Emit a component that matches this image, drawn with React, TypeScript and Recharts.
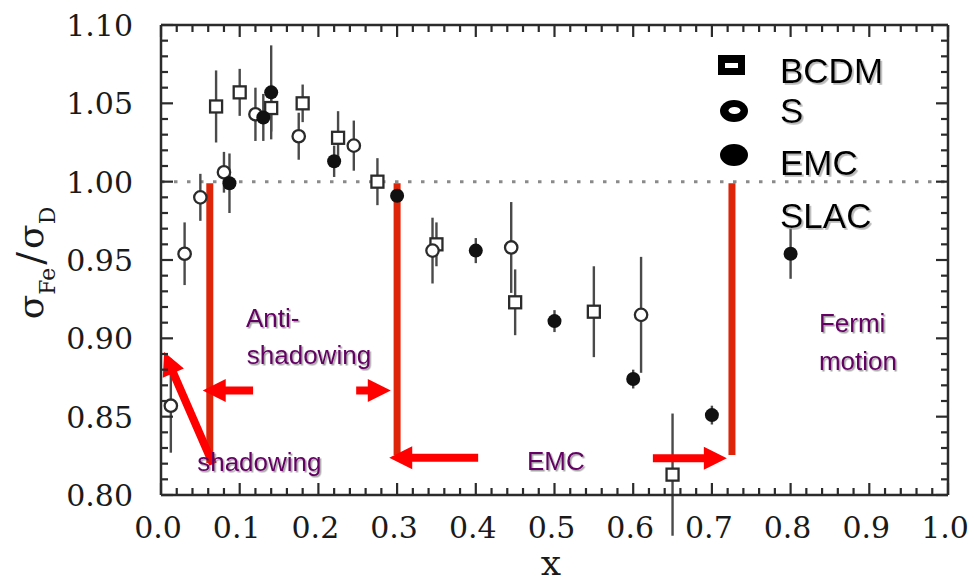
import React from "react";
import {
  ScatterChart,
  Scatter,
  XAxis,
  YAxis,
  ErrorBar,
  ReferenceLine,
  ReferenceDot,
  Legend,
} from "recharts";

// BCDM - open squares
const bcdmX = [0.07, 0.1, 0.14, 0.18, 0.225, 0.275, 0.35, 0.45, 0.55, 0.65];
const bcdmY = [1.048, 1.057, 1.047, 1.05, 1.028, 1.0, 0.96, 0.923, 0.917, 0.813];
const bcdmErr = [0.023, 0.015, 0.015, 0.012, 0.017, 0.015, 0.014, 0.021, 0.029, 0.039];

// S (SLAC) - open circles
const sX = [0.0125, 0.03, 0.05, 0.08, 0.12, 0.175, 0.245, 0.345, 0.445, 0.61];
const sY = [0.857, 0.954, 0.99, 1.006, 1.043, 1.029, 1.023, 0.956, 0.958, 0.915];
const sErr = [0.03, 0.02, 0.015, 0.013, 0.017, 0.015, 0.016, 0.021, 0.029, 0.037];

// EMC - filled circles
const emcX = [0.087, 0.13, 0.14, 0.22, 0.3, 0.4, 0.5, 0.6, 0.7, 0.8];
const emcY = [0.999, 1.041, 1.057, 1.013, 0.991, 0.956, 0.911, 0.874, 0.851, 0.954];
const emcErr = [0.019, 0.015, 0.03, 0.01, 0.004, 0.008, 0.007, 0.006, 0.006, 0.016];

const xTickLabels = ["0.0", "0.1", "0.2", "0.3", "0.4", "0.5", "0.6", "0.7", "0.8", "0.9", "1.0"];
const yTickLabels = ["0.80", "0.85", "0.90", "0.95", "1.00", "1.05", "1.10"];
const legendLabels = ["BCDM", "S", "EMC", "SLAC"];

// minor ticks every 0.02 in x and 0.01 in y
const xTicks = Array.from({ length: 51 }, (_, i) => (i * 2) / 100);
const yTicks = Array.from({ length: 31 }, (_, i) => (80 + i) / 100);

const toPoints = (xs: number[], ys: number[], es: number[]) =>
  xs.map((x, i) => ({ x, y: ys[i], e: es[i] }));

const bcdmData = toPoints(bcdmX, bcdmY, bcdmErr);
const sData = toPoints(sX, sY, sErr);
const emcData = toPoints(emcX, emcY, emcErr);

// annotation positions, in data units
const redBars = [
  { x: 0.062, top: 0.999, bottom: 0.8205 },
  { x: 0.3, top: 0.999, bottom: 0.8255 },
  { x: 0.7255, top: 0.999, bottom: 0.8255 },
];
const arrows = [
  { from: [0.117, 0.8667], to: [0.053, 0.8667] },
  { from: [0.248, 0.8667], to: [0.292, 0.8667] },
  { from: [0.403, 0.8237], to: [0.29, 0.8237] },
  { from: [0.625, 0.8235], to: [0.719, 0.8235] },
  { from: [0.066, 0.8197], to: [0.004, 0.8912] },
];
const notes = [
  { text: "Anti-", x: 0.108, y: 0.9075 },
  { text: "shadowing", x: 0.109, y: 0.8838 },
  { text: "shadowing", x: 0.046, y: 0.8155 },
  { text: "EMC", x: 0.465, y: 0.816 },
  { text: "Fermi", x: 0.836, y: 0.9041 },
  { text: "motion", x: 0.836, y: 0.8798 },
];

const INK = "#2b2b2b";
const SERIF = "'DejaVu Serif', serif";
const SANS = "'Liberation Sans', Arial, sans-serif";

const findLabel = (labels: string[], v: number) =>
  labels.find((l) => Math.abs(parseFloat(l) - v) < 1e-6);

function makeTick(side: "bottom" | "top" | "left" | "right") {
  return (props: any) => {
    const { x, y, payload } = props;
    const labels = side === "bottom" || side === "top" ? xTickLabels : yTickLabels;
    const label = findLabel(labels, payload.value);
    const len = label ? 12 : 7;
    let line;
    if (side === "bottom") line = <line x1={x} y1={y} x2={x} y2={y - len} />;
    else if (side === "top") line = <line x1={x} y1={y} x2={x} y2={y + len} />;
    else if (side === "left") line = <line x1={x} y1={y} x2={x + len} y2={y} />;
    else line = <line x1={x} y1={y} x2={x - len} y2={y} />;
    return (
      <g>
        <g stroke={INK} strokeWidth={2.2}>{line}</g>
        {label && side === "bottom" && (
          <text x={x - 3} y={y + 43} textAnchor="middle" fontFamily={SERIF} fontSize={30} fill="#1a1a1a">
            {label}
          </text>
        )}
        {label && side === "left" && (
          <text x={x - 28} y={y + 11} textAnchor="end" fontFamily={SERIF} fontSize={30} fill="#1a1a1a">
            {label}
          </text>
        )}
      </g>
    );
  };
}

const OpenSquare = (p: any) => (
  <rect x={p.cx - 6} y={p.cy - 6} width={12} height={12} fill="#fff" stroke={INK} strokeWidth={2.3} />
);
const OpenCircle = (p: any) => (
  <circle cx={p.cx} cy={p.cy} r={6.2} fill="#fff" stroke={INK} strokeWidth={2.3} />
);
const FilledCircle = (p: any) => <circle cx={p.cx} cy={p.cy} r={7} fill="#111" />;

function Arrow(props: any) {
  const { x1, y1, x2, y2 } = props;
  const dx = x2 - x1;
  const dy = y2 - y1;
  const L = Math.hypot(dx, dy);
  const ux = dx / L;
  const uy = dy / L;
  const nx = -uy;
  const ny = ux;
  const head = 23;
  const hw = 11.5;
  const sw = 4;
  const bx = x2 - ux * head;
  const by = y2 - uy * head;
  const pts = [
    [x1 + nx * sw, y1 + ny * sw],
    [bx + nx * sw, by + ny * sw],
    [bx + nx * hw, by + ny * hw],
    [x2, y2],
    [bx - nx * hw, by - ny * hw],
    [bx - nx * sw, by - ny * sw],
    [x1 - nx * sw, y1 - ny * sw],
  ];
  return <polygon points={pts.map((q) => q.join(",")).join(" ")} fill="#ff0000" />;
}

function NoteText(props: any) {
  const { cx, cy, text } = props;
  return (
    <text x={cx} y={cy} fontFamily={SANS} fontSize={26} fill="#650065" filter="url(#noteShadow)">
      {text}
    </text>
  );
}

function LegendBox() {
  const ys = [43, 83, 135, 188];
  return (
    <svg width={200} height={200} style={{ display: "block" }}>
      <defs>
        <filter id="legShadow" x="-10%" y="-10%" width="130%" height="140%">
          <feDropShadow dx={1.8} dy={1.8} stdDeviation={0.6} floodColor="#888" floodOpacity={0.6} />
        </filter>
      </defs>
      <rect x={18} y={15} width={27} height={20} fill="#000" />
      <rect x={25} y={23} width={13} height={5} fill="#fff" />
      <ellipse cx={34} cy={71} rx={14} ry={11} fill="#000" />
      <ellipse cx={34.5} cy={70.5} rx={6} ry={3.5} fill="#fff" />
      <ellipse cx={34} cy={115} rx={14} ry={11} fill="#000" />
      <g fontFamily={SANS} fontSize={35} filter="url(#legShadow)">
        {legendLabels.map((l, i) => (
          <text key={l} x={80} y={ys[i]} fill="#000">{l}</text>
        ))}
      </g>
    </svg>
  );
}

const YTitle = () => (
  <g>
    <defs>
      <filter id="noteShadow" x="-10%" y="-20%" width="130%" height="150%">
        <feDropShadow dx={1.5} dy={1.5} stdDeviation={0.5} floodColor="#444" floodOpacity={0.5} />
      </filter>
    </defs>
    <text
      x={43}
      y={263}
      transform="rotate(-90 43 263)"
      textAnchor="middle"
      fontFamily={SERIF}
      fill="#1a1a1a"
    >
      <tspan fontSize={36}>σ</tspan>
      <tspan fontSize={22} dy={12}>Fe</tspan>
      <tspan fontSize={38} dy={-12} dx={3}>/</tspan>
      <tspan fontSize={36} dx={3}>σ</tspan>
      <tspan fontSize={22} dy={12}>D</tspan>
    </text>
  </g>
);

const XTitle = () => (
  <text x={551} y={575} textAnchor="middle" fontFamily={SERIF} fontSize={36} fill="#1a1a1a">
    x
  </text>
);

const axisLine = { stroke: INK, strokeWidth: 2.5 };

export default function App() {
  return (
    <div style={{ position: "absolute", left: 0, top: 0, background: "#fff" }}>
      <ScatterChart width={974} height={583} margin={{ top: 0, right: 0, bottom: 0, left: 0 }}>
        <XAxis
          xAxisId="b"
          type="number"
          dataKey="x"
          domain={[0, 1]}
          allowDataOverflow
          ticks={xTicks}
          interval={0}
          height={88}
          tickSize={0}
          tickMargin={0}
          tickLine={false}
          axisLine={axisLine}
          tick={makeTick("bottom")}
          label={XTitle}
        />
        <XAxis
          xAxisId="t"
          orientation="top"
          type="number"
          dataKey="x"
          domain={[0, 1]}
          allowDataOverflow
          ticks={xTicks}
          interval={0}
          height={25}
          tickSize={0}
          tickMargin={0}
          tickLine={false}
          axisLine={axisLine}
          tick={makeTick("top")}
        />
        <YAxis
          yAxisId="l"
          type="number"
          dataKey="y"
          domain={[0.8, 1.1]}
          allowDataOverflow
          ticks={yTicks}
          interval={0}
          width={161}
          tickSize={0}
          tickMargin={0}
          tickLine={false}
          axisLine={axisLine}
          tick={makeTick("left")}
          label={YTitle}
        />
        <YAxis
          yAxisId="r"
          orientation="right"
          type="number"
          dataKey="y"
          domain={[0.8, 1.1]}
          allowDataOverflow
          ticks={yTicks}
          interval={0}
          width={26}
          tickSize={0}
          tickMargin={0}
          tickLine={false}
          axisLine={axisLine}
          tick={makeTick("right")}
        />
        <ReferenceLine
          xAxisId="b"
          yAxisId="l"
          y={1}
          stroke="#8a8a8a"
          strokeWidth={3}
          strokeDasharray="3.5 9.5"
        />
        <Scatter name="BCDM" xAxisId="b" yAxisId="l" data={bcdmData} shape={OpenSquare} isAnimationActive={false}>
          <ErrorBar dataKey="e" direction="y" width={0} stroke="#4a4a4a" strokeWidth={2.4} isAnimationActive={false} />
        </Scatter>
        <Scatter name="S" xAxisId="b" yAxisId="l" data={sData} shape={OpenCircle} isAnimationActive={false}>
          <ErrorBar dataKey="e" direction="y" width={0} stroke="#4a4a4a" strokeWidth={2.4} isAnimationActive={false} />
        </Scatter>
        <Scatter name="EMC" xAxisId="b" yAxisId="l" data={emcData} shape={FilledCircle} isAnimationActive={false}>
          <ErrorBar dataKey="e" direction="y" width={0} stroke="#4a4a4a" strokeWidth={2.4} isAnimationActive={false} />
        </Scatter>
        {redBars.map((b, i) => (
          <ReferenceLine
            key={"bar" + i}
            xAxisId="b"
            yAxisId="l"
            segment={[
              { x: b.x, y: b.top },
              { x: b.x, y: b.bottom },
            ]}
            stroke="#df2509"
            strokeWidth={7}
          />
        ))}
        {arrows.map((a, i) => (
          <ReferenceLine
            key={"arrow" + i}
            xAxisId="b"
            yAxisId="l"
            segment={[
              { x: a.from[0], y: a.from[1] },
              { x: a.to[0], y: a.to[1] },
            ]}
            shape={Arrow}
          />
        ))}
        {notes.map((n, i) => (
          <ReferenceDot
            key={"note" + i}
            xAxisId="b"
            yAxisId="l"
            x={n.x}
            y={n.y}
            r={0}
            shape={(p: any) => <NoteText cx={p.cx} cy={p.cy} text={n.text} />}
          />
        ))}
        <Legend
          layout="vertical"
          align="center"
          verticalAlign="middle"
          wrapperStyle={{ left: 700, top: 40, width: 200, height: 200 }}
          content={() => <LegendBox />}
        />
      </ScatterChart>
    </div>
  );
}
